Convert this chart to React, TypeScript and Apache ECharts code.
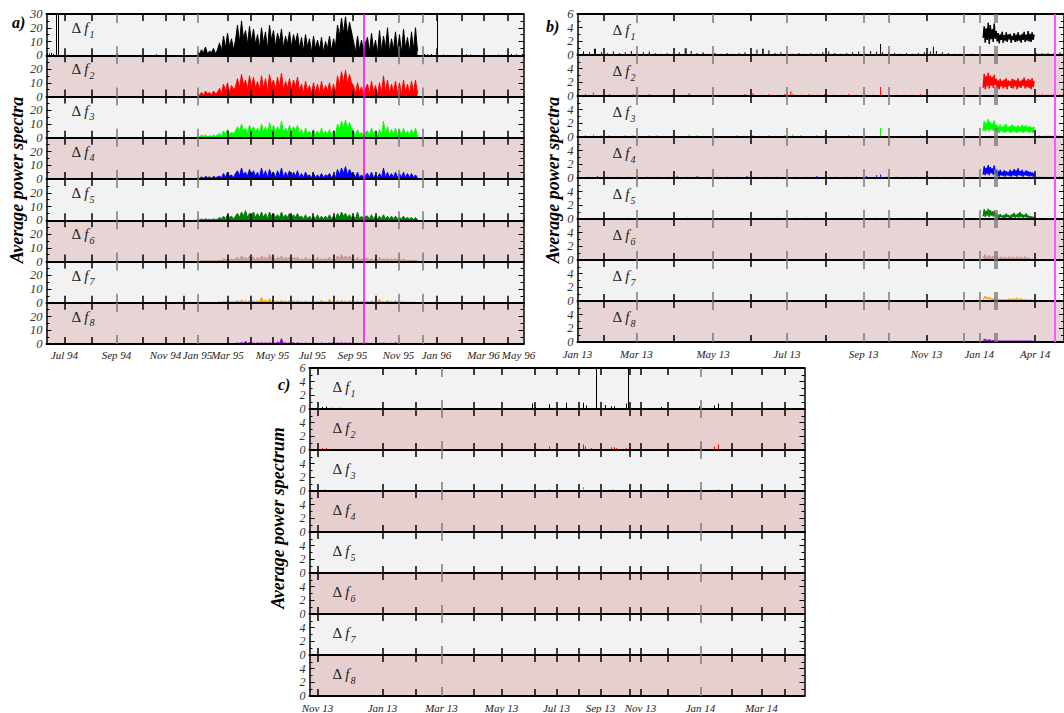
import React, { useEffect, useRef } from "react";
import * as echarts from "echarts";

// ================= Panel a (1994-1996) =================
const A_COUNT = 478;
const A_TICKS = [18, 45, 96, 119, 137, 181, 204, 226, 244, 266, 287, 306, 329, 390, 415, 437, 461];
const A_GRAY_TICKS = [70, 151, 352, 376];
const A_LABEL_POS = [18, 70, 119, 151, 181, 226, 266, 306, 352, 390, 437, 472];
const A_LABEL_TEXT = ["Jul 94", "Sep 94", "Nov 94", "Jan 95", "Mar 95", "May 95", "Jul 95", "Sep 95", "Nov 95", "Jan 96", "Mar 96", "May 96"];
const A_MARKER = 317;
const A_BAND_START = 151;
const A_BAND_STEP = 2;

const A_F1 = [
  3, 1, 4, 2, 6, 1, 3, 2, 5, 1, 4,
  9, 3, 14, 5, 16, 6, 12, 4, 11,
  22, 9, 25, 12, 18, 8, 21, 10, 19, 8,
  15, 5, 20, 9, 17, 4, 22, 11, 18, 6, 16, 10, 19, 5, 14, 8, 17, 6, 15, 9, 16, 5,
  13, 3, 15, 6, 12, 2, 14, 5, 11, 4, 13, 2, 10, 5, 14, 3, 12, 6,
  22, 14, 27, 16, 28, 15, 24, 17,
  10, 2, 14, 4, 11, 3, 9,
  13, 2, 16, 4, 11, 1, 18, 3, 14, 5, 20, 2, 12, 4, 17, 3, 15, 1, 19, 5, 13, 2, 17, 4, 20, 3,
];
const A_F2 = [
  2, 1, 3, 1, 4, 2, 3, 1, 4, 2, 3,
  6, 2, 9, 4, 10, 3, 8, 5, 7,
  13, 6, 16, 8, 12, 5, 15, 7, 14, 6,
  11, 4, 15, 6, 13, 3, 16, 8, 12, 5, 14, 7, 17, 4, 11, 6, 13, 5, 12, 7, 14, 4,
  9, 2, 11, 4, 8, 2, 10, 3, 9, 2, 11, 3, 8, 4, 10, 2, 9, 3,
  15, 8, 18, 10, 19, 9, 16, 10,
  8, 2, 10, 3, 7, 2, 6,
  9, 2, 11, 3, 8, 1, 10, 2, 15, 3, 12, 2, 9, 3, 11, 2, 10, 1, 12, 3, 9, 2, 11, 3, 12, 2,
];
const A_F3 = [
  1, 0.5, 2, 1, 2, 0.5, 1.5, 1, 2, 1, 2,
  3, 1, 5, 2, 6, 2, 4, 3, 5,
  8, 4, 10, 5, 7, 3, 9, 5, 8, 4,
  7, 3, 10, 4, 8, 2, 11, 5, 9, 3, 8, 4, 12, 3, 7, 4, 9, 3, 8, 5, 9, 3,
  6, 1, 7, 3, 5, 1, 6, 2, 5, 1, 7, 2, 5, 2, 6, 1, 5, 2,
  10, 6, 12, 7, 13, 6, 11, 7,
  5, 1, 6, 2, 4, 1, 4,
  5, 1, 7, 2, 5, 1, 6, 1, 12, 2, 8, 1, 6, 2, 7, 1, 6, 1, 7, 2, 5, 1, 6, 2, 7, 1,
];
const A_F4 = [
  1, 0.5, 1.5, 0.5, 2, 1, 1.5, 0.5, 2, 1, 1.5,
  2, 1, 4, 1, 5, 2, 3, 1, 4,
  6, 2, 8, 3, 5, 2, 7, 3, 6, 2,
  5, 1, 8, 2, 6, 1, 7, 3, 5, 1, 6, 2, 8, 1, 5, 2, 6, 1, 5, 2, 6, 1,
  4, 1, 5, 2, 3, 1, 4, 1, 3, 1, 4, 1, 3, 2, 4, 1, 3, 1,
  7, 3, 8, 4, 9, 3, 7, 4,
  4, 1, 5, 1, 3, 1, 3,
  4, 1, 5, 1, 3, 1, 4, 1, 8, 1, 5, 1, 4, 1, 5, 1, 4, 1, 5, 1, 4, 1, 4, 1, 3, 1,
];
const A_F5 = [
  0.5, 0.3, 0.8, 0.4, 1, 0.5, 0.7, 0.4, 1, 0.5, 0.8,
  2, 1, 3, 1, 4, 2, 3, 1, 3,
  5, 2, 6, 3, 7, 2, 5, 3, 6, 2,
  5, 2, 6, 2, 5, 1, 6, 3, 5, 2, 4, 2, 6, 2, 4, 2, 5, 2, 4, 2, 5, 2,
  3, 1, 4, 1, 3, 1, 3, 1, 4, 1, 3, 1, 3, 1, 4, 1, 3, 1,
  5, 2, 6, 3, 5, 2, 4, 2,
  3, 1, 6, 1, 3, 1, 3,
  3, 1, 4, 1, 3, 1, 3, 1, 4, 1, 3, 1, 3, 1, 3, 1, 2, 1, 3, 1, 2, 1, 2, 0.5, 2, 0.5,
];
const A_F6 = [
  0.3, 0.2, 0.5, 0.2, 0.6, 0.3, 0.5, 0.2, 0.5, 0.3, 0.6,
  1, 0.5, 2, 1, 2, 1, 2, 1, 2,
  3, 1, 4, 2, 3, 1, 4, 2, 3, 1,
  3, 1, 4, 2, 3, 1, 5, 2, 3, 1, 3, 2, 4, 1, 3, 2, 3, 1, 3, 2, 3, 1,
  2, 1, 3, 1, 2, 1, 2, 1, 3, 1, 2, 1, 2, 1, 3, 1, 2, 1,
  4, 2, 5, 2, 4, 2, 4, 2,
  2, 1, 3, 1, 2, 1, 2,
  2, 1, 2, 1, 2, 1, 3, 1, 2, 1, 2, 1, 2, 1, 2, 1, 2, 0.5, 2, 0.5, 1, 0.5, 1, 0.5, 1, 0.5,
];
const A_F7 = [
  0.2, 0.1, 0.3, 0.1, 0.3, 0.1, 0.2, 0.1, 0.3, 0.1, 0.2,
  0.8, 0.3, 1, 0.4, 1.5, 0.5, 1, 0.4, 1,
  1.5, 0.5, 2, 0.8, 1.5, 0.5, 1.5, 0.5, 1.2, 0.5,
  1.5, 0.5, 4, 0.8, 2, 0.5, 3, 1, 2, 0.5, 1.5, 0.5, 2, 0.5, 1.5, 0.5, 1.5, 0.5, 1.2, 0.5, 1.5, 0.5,
  1, 0.3, 1.5, 0.5, 1, 0.3, 1, 0.3, 1.2, 0.3, 2, 0.3, 1, 0.3, 2.5, 0.5, 1, 0.3,
  1.5, 0.5, 2, 0.5, 1.5, 0.5, 1.5, 0.5,
  1, 0.3, 1.5, 0.3, 1, 0.3, 1,
  1, 0.3, 1.5, 0.3, 1, 0.3, 2.5, 0.3, 1, 0.3, 2, 0.3, 1, 0.3, 1.5, 0.3, 1, 0.3, 0.8, 0.2, 0.5, 0.2, 0.5, 0.2, 0.4, 0.1,
];
const A_F8 = [
  0.1, 0.1, 0.2, 0.1, 0.2, 0.1, 0.2, 0.1, 0.2, 0.1, 0.2,
  0.3, 0.1, 0.5, 0.2, 0.6, 0.2, 0.4, 0.2, 0.5,
  0.8, 0.3, 1, 0.4, 2, 0.4, 1, 0.3, 0.8, 0.3,
  0.8, 0.3, 1, 0.3, 0.8, 0.3, 1, 0.3, 1, 0.3, 1.5, 0.3, 4, 0.3, 1, 0.3, 0.8, 0.3, 1, 0.3, 0.8, 0.3,
  0.6, 0.2, 0.8, 0.2, 0.6, 0.2, 0.8, 0.2, 0.6, 0.2, 0.8, 0.2, 0.6, 0.2, 0.8, 0.2, 1.5, 0.2,
  0.8, 0.3, 1, 0.3, 0.8, 0.3, 0.8, 0.3,
  0.5, 0.2, 0.6, 0.2, 0.5, 0.2, 0.5,
  0.5, 0.2, 0.6, 0.2, 0.5, 0.2, 0.6, 0.2, 0.8, 0.2, 0.5, 0.2, 0.6, 0.2, 1, 0.2, 0.5, 0.2, 0.5, 0.2, 0.4, 0.1, 0.4, 0.1, 0.3, 0.1,
];
const A_F1_SPIKES = [
  [1, 1.5], [3, 1.2], [5, 1.8], [7, 1], [10, 40], [12, 40], [71, 1.5], [110, 0.8],
  [378, 1], [381, 0.8], [385, 1], [391, 40], [397, 0.5], [420, 0.7], [424, 0.5],
  [440, 0.4], [452, 0.5], [465, 1], [470, 0.8], [476, 1],
];

// ================= Panel b (2013-2014) =================
const B_COUNT = 489;
const B_TICKS = [26, 97, 174, 249, 350, 459];
const B_GRAY_TICKS = [59, 136, 210, 287, 312, 387, 403, 419, 421];
const B_LABEL_POS = [0, 59, 136, 210, 287, 350, 403, 459];
const B_LABEL_TEXT = ["Jan 13", "Mar 13", "May 13", "Jul 13", "Sep 13", "Nov 13", "Jan 14", "Apr 14"];
const B_MARKER = 479;
const B_BAND_START = 407;
const B_TAIL_START = 460;
const B_TAIL_STEP = 3;

const B_F1_BASE = [0.3, 0.5, 0.4, 0.9, 0.4, 0.3, 0.5, 0.3, 0.4, 0.6, 0.3, 0.4, 0.5, 0.3, 0.2, 0.3, 0.2, 0.4, 1.0, 0.6, 0.3, 0.4, 0.2, 0.3, 0.2, 0.3, 0.2, 0.3, 0.4, 0.2, 0.8, 0.9, 0.7, 0.3, 0.4, 0.3, 0.2, 0.3, 0.2, 0.3, 0.2, 0.4, 0.5, 0.3, 0.2, 0.3, 0.4, 0.5, 0.3, 0.6, 0.5, 0.4, 0.4, 0.3, 0.2, 0.3, 0.2, 0.3, 0.4, 0.5, 0.6, 0.4, 0.3, 0.2, 0.2, 0.1, 0.2, 0.1];
const B_F2_BASE = [0.2, 0.3, 0.5, 0.2, 0.3, 0.2, 0.2, 0.3, 0.2, 0.3, 0.2, 0.2, 0.3, 0.2, 0.4, 0.2, 0.2, 0.3, 0.2, 0.2, 0.2, 0.3, 0.4, 0.2, 0.3, 0.2, 0.3, 0.3, 0.2, 0.3, 0.2, 0.3, 0.2, 0.2, 0.3, 0.2, 0.3, 0.2, 0.3, 0.3, 0.2, 0.2, 0.2, 0.3, 0.2, 0.2, 0.2, 0.1, 0.2, 0.1, 0.1];
const B_F3_BASE = [0.3, 0.3, 0.4, 0.3, 0.3, 0.2, 0.3, 0.3, 0.2, 0.3, 0.3, 0.2, 0.3, 0.2, 0.4, 0.3, 0.2, 0.3, 0.2, 0.2, 0.3, 0.2, 0.3, 0.2, 0.3, 0.2, 0.3, 0.4, 0.3, 0.2, 0.3, 0.3, 0.2, 0.2, 0.3, 0.2, 0.3, 0.2, 0.5, 0.3, 0.2, 0.2, 0.2, 0.3, 0.2, 0.2, 0.2, 0.2, 0.2, 0.1, 0.1];
const B_F4_BASE = [0.2, 0.2, 0.3, 0.2, 0.2, 0.2, 0.3, 0.2, 0.2, 0.2, 0.3, 0.2, 0.3, 0.2, 0.2, 0.2, 0.2, 0.3, 0.2, 0.2, 0.2, 0.2, 0.2, 0.2, 0.3, 0.2, 0.2, 0.2, 0.2, 0.3, 0.4, 0.2, 0.2, 0.2, 0.2, 0.3, 0.2, 0.2, 0.1, 0.1, 0.1];
const B_F5_BASE = [0.2, 0.1, 0.2, 0.1, 0.1, 0.2, 0.1, 0.1, 0.1, 0.1, 0.1, 0.2, 0.1, 0.2, 0.2, 0.1, 0.1, 0.1, 0.1, 0.1, 0.2, 0.1, 0.2, 0.2, 0.1, 0.1, 0.1, 0.1, 0.1, 0.1, 0.2, 0.1, 0.1, 0.2, 0.1, 0.1, 0.1, 0.1, 0.1, 0.1, 0.1];

const B_F1 = [
  2.5, 4.2, 1.8, 3.9, 2.2, 4.7, 1.6, 4.4, 2.3, 3.8, 1.9, 4.6, 2.4, 3.5,
  2.0, 3.2, 1.7, 3.0, 2.2, 3.4, 1.8, 2.9, 2.1, 3.3, 1.9, 3.0, 2.3, 3.1, 1.8, 2.8, 2.2, 3.2, 1.9, 3.0,
  2.0, 3.3, 2.1, 2.9, 1.8, 3.1, 2.2, 3.4, 1.9, 3.0, 2.1, 3.5, 2.0, 3.1, 1.9, 3.3, 2.2, 3.0,
];
const B_F2 = [
  1.2, 3.2, 1.0, 2.9, 1.4, 3.4, 1.1, 3.0, 1.5, 2.8, 1.2, 3.1, 1.6, 2.5,
  1.2, 2.3, 1.0, 2.5, 1.4, 2.2, 1.1, 2.4, 1.3, 2.6, 1.0, 2.3, 1.5, 2.2, 1.2, 2.5, 1.1, 2.4, 1.4, 2.3,
  1.0, 2.6, 1.3, 2.2, 1.2, 2.4, 1.5, 2.7, 1.1, 2.3, 1.3, 2.5, 1.2, 2.4, 1.0, 2.6, 1.3, 2.2,
];
const B_F3 = [
  0.9, 2.3, 0.8, 2.1, 1.0, 2.6, 0.8, 2.2, 1.1, 2.0, 0.9, 2.4, 1.0, 1.8,
  0.7, 1.6, 0.6, 1.8, 0.8, 1.5, 0.7, 1.7, 0.6, 1.9, 0.8, 1.5, 0.7, 1.6, 0.6, 1.8, 0.8, 1.6, 0.7, 1.5,
  0.6, 1.7, 0.8, 1.5, 0.7, 1.8, 0.6, 1.6, 0.7, 1.7, 0.8, 1.5, 0.6, 1.6, 0.7, 1.4, 0.6, 1.5,
];
const B_F4 = [
  0.5, 1.7, 0.4, 1.5, 0.6, 1.9, 0.4, 1.6, 0.7, 1.4, 0.5, 1.8, 0.6, 1.2,
  0.3, 1.0, 0.2, 1.2, 0.4, 0.9, 0.3, 1.1, 0.2, 1.0, 0.4, 0.9, 0.3, 1.2, 0.2, 1.0, 0.4, 1.3, 0.3, 1.1,
  0.2, 1.4, 0.4, 1.0, 0.3, 1.2, 0.2, 0.9, 0.4, 1.1, 0.3, 1.0, 0.2, 0.9, 0.3, 0.8, 0.2, 0.7,
];
const B_F5 = [
  0.4, 1.4, 0.3, 1.2, 0.5, 1.5, 0.3, 1.3, 0.5, 1.1, 0.4, 1.2, 0.3, 0.9,
  0.2, 0.6, 0.1, 0.7, 0.3, 0.5, 0.2, 0.6, 0.1, 0.8, 0.3, 0.6, 0.2, 0.5, 0.1, 0.7, 0.3, 0.9, 0.2, 0.6,
  0.3, 0.8, 0.2, 1.0, 0.3, 0.7, 0.2, 0.6, 0.3, 0.8, 0.2, 0.5, 0.1, 0.4, 0.2, 0.3, 0.1, 0.3,
];
const B_F6 = [0.3, 0.8, 0.2, 0.7, 0.3, 0.6, 0.2, 0.4, 0.2, 0.5, 0.2, 0.4, 0.2, 0.5, 0.2, 0.4, 0.2, 0.5, 0.2, 0.4, 0.2, 0.5, 0.2, 0.3, 0.1, 0.2];
const B_F7 = [0.2, 0.7, 0.3, 0.5, 0.2, 0.3, 0.1, 0.2, 0.1, 0.2, 0.1, 0.2, 0.1, 0.3, 0.1, 0.3, 0.2, 0.4, 0.1, 0.3, 0.1, 0.2, 0.1, 0.1, 0.1, 0.1];
const B_F8 = [0.2, 0.4, 0.1, 0.3, 0.1, 0.2, 0.1, 0.1, 0.1, 0.1, 0.1, 0.1, 0.1, 0.1, 0.1, 0.1, 0.1, 0.1, 0.1, 0.1, 0.1, 0.1, 0.1, 0.1, 0.1, 0.1];
const B_BAND_STEPS = [1, 1, 1, 1, 1, 2, 2, 2];

const B_F1_TAIL = [0.3, 0.2, 0.3, 0.2, 0.3, 0.2, 0.3, 0.2, 0.4, 0.2];
const B_F2_TAIL = [0.2, 0.2, 0.3, 0.2, 0.2, 0.2, 0.3, 0.2, 0.2, 0.3];
const B_F3_TAIL = [0.2, 0.3, 0.2, 0.2, 0.3, 0.2, 0.2, 0.3, 0.2, 0.2];
const B_F4_TAIL = [0.2, 0.2, 0.2, 0.2, 0.2, 0.2, 0.2, 0.2, 0.2, 0.2];

const B_F1_SPIKES = [[17, 0.9], [109, 1.0], [186, 0.9], [304, 1.6], [357, 1.2]];
const B_F2_SPIKES = [[214, 0.7], [304, 1.3]];
const B_F3_SPIKES = [[304, 1.3]];
const B_F4_SPIKES = [[304, 0.5]];

// ================= Panel c =================
const C_COUNT = 496;
const C_TICKS = [8, 73, 106, 164, 192, 225, 247, 269, 291, 320, 331, 358, 422, 452, 475];
const C_GRAY_TICKS = [132, 391];
const C_LABEL_POS = [8, 73, 132, 192, 247, 291, 331, 391, 452];
const C_LABEL_TEXT = ["Nov 13", "Jan 13", "Mar 13", "May 13", "Jul 13", "Sep 13", "Nov 13", "Jan 14", "Mar 14"];

const C_F1_SPIKES = [[13, 0.3], [17, 0.35], [22, 0.2], [30, 0.2], [223, 0.8], [226, 0.3], [240, 0.7], [257, 0.9], [274, 0.9], [277, 0.5], [287, 7], [296, 0.6], [302, 0.4], [305, 0.4], [317, 0.8], [319, 7], [352, 0.3], [390, 0.4], [405, 0.5], [409, 0.8]];
const C_F2_SPIKES = [[13, 0.3], [17, 0.3], [20, 0.2], [227, 0.2], [240, 0.5], [274, 0.8], [276, 0.5], [282, 0.3], [302, 0.4], [305, 0.4], [307, 0.3], [317, 0.3], [352, 0.2], [383, 0.2], [391, 0.6], [405, 0.5], [409, 0.8]];
const C_F3_SPIKES = [[15, 0.3], [240, 0.3], [274, 0.6], [303, 0.3], [353, 0.2], [383, 0.2], [391, 0.4], [409, 0.3]];
const C_F4_SPIKES = [[240, 0.15], [274, 0.2], [280, 0.15], [303, 0.2], [317, 0.15]];

// ================= styling =================
const COLORS = ["#000000", "#ff0000", "#00ff00", "#0000ff", "#008000", "#bc8f8f", "#ffa500", "#9400d3"];
const SERIF = "'Liberation Serif', 'Times New Roman', 'DejaVu Serif', serif";
const LIGHT = "#f2f2f2";

type Layer = { kind: "zig" | "fill" | "spike"; data: number[][] };

function seq(start: number, step: number, values: number[]) {
  return values.map((v, k) => [start + k * step, v]);
}

const A_BANDS = [A_F1, A_F2, A_F3, A_F4, A_F5, A_F6, A_F7, A_F8];
const A_LAYERS: Layer[][] = A_BANDS.map((vals, i) => [
  { kind: "fill", data: seq(A_BAND_START, A_BAND_STEP, vals) },
  { kind: "spike", data: i === 0 ? A_F1_SPIKES : [] },
]);

const B_BANDS = [B_F1, B_F2, B_F3, B_F4, B_F5, B_F6, B_F7, B_F8];
const B_BASES: { step: number; v: number[] }[] = [
  { step: 6, v: B_F1_BASE }, { step: 8, v: B_F2_BASE }, { step: 8, v: B_F3_BASE },
  { step: 10, v: B_F4_BASE }, { step: 10, v: B_F5_BASE },
];
const B_TAILS = [B_F1_TAIL, B_F2_TAIL, B_F3_TAIL, B_F4_TAIL];
const B_SPIKES = [B_F1_SPIKES, B_F2_SPIKES, B_F3_SPIKES, B_F4_SPIKES];
const B_LAYERS: Layer[][] = B_BANDS.map((vals, i) => {
  const out: Layer[] = [];
  out.push({ kind: i === 5 ? "fill" : "zig", data: seq(B_BAND_START, B_BAND_STEPS[i], vals) });
  const spikes: number[][] = [];
  if (B_BASES[i]) spikes.push(...seq(0, B_BASES[i].step, B_BASES[i].v));
  if (B_TAILS[i]) spikes.push(...seq(B_TAIL_START, B_TAIL_STEP, B_TAILS[i]));
  if (B_SPIKES[i]) spikes.push(...B_SPIKES[i]);
  if (spikes.length) out.push({ kind: "spike", data: spikes });
  return out;
});

const C_SPIKES = [C_F1_SPIKES, C_F2_SPIKES, C_F3_SPIKES, C_F4_SPIKES, [], [], [], []];
const C_LAYERS: Layer[][] = C_SPIKES.map((d) => [{ kind: "spike", data: d }]);

const PANELS = [
  {
    letter: "a)", left: 46.5, top: 14, width: 477, h: 41.25, count: A_COUNT, ymax: 30, yint: 10,
    ticks: A_TICKS, gray: A_GRAY_TICKS, labelPos: A_LABEL_POS, labelText: A_LABEL_TEXT,
    pink: "#e7d4d4", layers: A_LAYERS, marker: A_MARKER, markerColor: "#ff00ff", markerWidth: 1.5,
    ldx: 25, ldy: 14, letterX: 12, letterY: 22, title: "Average power spectra", titleX: 17, titleY: 180,
    labelMargin: 5, yFont: 12.5,
  },
  {
    letter: "b)", left: 577.5, top: 14, width: 488, h: 41, count: B_COUNT, ymax: 6, yint: 2,
    ticks: B_TICKS, gray: B_GRAY_TICKS, labelPos: B_LABEL_POS, labelText: B_LABEL_TEXT,
    pink: "#e7d4d4", layers: B_LAYERS, marker: B_MARKER, markerColor: "#ff55ff", markerWidth: 2,
    ldx: 35, ldy: 16, letterX: 546, letterY: 26, title: "Average power spectra", titleX: 553, titleY: 180,
    labelMargin: 6, yFont: 12.5,
  },
  {
    letter: "c)", left: 309.5, top: 368, width: 495, h: 41, count: C_COUNT, ymax: 6, yint: 2,
    ticks: C_TICKS, gray: C_GRAY_TICKS, labelPos: C_LABEL_POS, labelText: C_LABEL_TEXT,
    pink: "#e8cfcf", layers: C_LAYERS, marker: null as number | null, markerColor: "#ff00ff", markerWidth: 1,
    ldx: 23, ldy: 19, letterX: 278, letterY: 384, title: "Average power spectrum", titleX: 278, titleY: 518,
    labelMargin: 6, yFont: 12,
  },
];

function buildOption() {
  const grid: any[] = [];
  const xAxis: any[] = [];
  const yAxis: any[] = [];
  const series: any[] = [];
  const graphic: any[] = [];

  PANELS.forEach((p) => {
    const cats = Array.from({ length: p.count }, (_, k) => String(k));
    const tickSet = new Set(p.ticks);
    const graySet = new Set(p.gray);
    const labelMap = new Map<number, string>(p.labelPos.map((v, k) => [v, p.labelText[k]]));

    graphic.push({
      type: "text", x: p.letterX, y: p.letterY, z: 100, silent: true,
      style: { text: p.letter, fontFamily: SERIF, fontSize: 16, fontWeight: "bold", fontStyle: "italic", fill: "#000", verticalAlign: "middle" },
    });
    graphic.push({
      type: "text", x: p.titleX, y: p.titleY, rotation: Math.PI / 2, z: 100, silent: true,
      style: { text: p.title, fontFamily: SERIF, fontSize: 18, fontWeight: "bold", fontStyle: "italic", fill: "#000", align: "center", verticalAlign: "middle" },
    });

    for (let i = 0; i < 8; i++) {
      const g = grid.length;
      const top = p.top + i * p.h;
      grid.push({
        left: p.left, top, width: p.width, height: p.h, show: true,
        backgroundColor: i % 2 ? p.pink : LIGHT, borderWidth: 0,
      });
      const base = { type: "category", gridIndex: g, data: cats, boundaryGap: false, splitLine: { show: false }, z: 4, silent: true };
      const mkBlack = () => ({ show: true, inside: true, length: 7, interval: (idx: number) => tickSet.has(idx), lineStyle: { color: "#000", width: 1.5 } });
      const mkGray = () => ({ show: true, inside: true, length: 9, interval: (idx: number) => graySet.has(idx), lineStyle: { color: "#7a7a7a", width: 1.5 } });
      xAxis.push({
        ...base, position: "bottom",
        axisLine: { show: true, onZero: false, lineStyle: { color: "#000", width: 2 } },
        axisTick: mkBlack(),
        axisLabel: {
          show: i === 7, interval: (idx: number) => labelMap.has(idx),
          formatter: (_v: string, idx: number) => labelMap.get(idx) ?? "",
          showMinLabel: true, showMaxLabel: true, hideOverlap: false,
          fontFamily: SERIF, fontStyle: "italic", fontSize: 11, color: "#222", margin: p.labelMargin,
        },
      });
      xAxis.push({
        ...base, position: "top",
        axisLine: { show: true, onZero: false, lineStyle: { color: "#000", width: i === 0 ? 2 : 1 } },
        axisTick: mkBlack(), axisLabel: { show: false },
      });
      xAxis.push({ ...base, position: "bottom", axisLine: { show: false, onZero: false }, axisTick: mkGray(), axisLabel: { show: false } });
      xAxis.push({ ...base, position: "top", axisLine: { show: false, onZero: false }, axisTick: mkGray(), axisLabel: { show: false } });

      const yBase = {
        type: "value", gridIndex: g, min: 0, max: p.ymax, interval: p.yint, z: 4, silent: true,
        axisLine: { show: true, onZero: false, lineStyle: { color: "#000", width: 1.5 } },
        axisTick: { show: true, inside: true, length: 5, lineStyle: { color: "#000", width: 1 } },
        minorTick: { show: true, splitNumber: 2, length: 3, lineStyle: { color: "#000", width: 1 } },
        splitLine: { show: false }, minorSplitLine: { show: false },
      };
      yAxis.push({
        ...yBase, position: "left",
        axisLabel: { show: true, showMaxLabel: i === 0, fontFamily: SERIF, fontStyle: "italic", fontSize: p.yFont, color: "#333", margin: 4 },
      });
      yAxis.push({ ...yBase, position: "right", axisLabel: { show: false } });

      const color = COLORS[i];
      const xi = g * 4;
      const yi = g * 2;
      let first = true;
      p.layers[i].forEach((layer) => {
        if (!layer.data.length) return;
        let s: any;
        if (layer.kind === "spike") {
          s = { type: "bar", xAxisIndex: xi, yAxisIndex: yi, data: layer.data, barWidth: 1, itemStyle: { color }, clip: true, silent: true, z: 3 };
        } else {
          s = {
            type: "line", xAxisIndex: xi, yAxisIndex: yi, data: layer.data, symbol: "none", showSymbol: false,
            lineStyle: { color, width: layer.kind === "zig" ? 1.5 : 1 }, itemStyle: { color }, clip: true, silent: true, z: 3,
          };
          if (layer.kind === "fill") s.areaStyle = { color, opacity: i === 5 ? 0.7 : 1 };
        }
        if (first && p.marker !== null) {
          s.markLine = {
            silent: true, symbol: ["none", "none"], label: { show: false },
            lineStyle: { color: p.markerColor, width: p.markerWidth, type: "solid" },
            data: [{ xAxis: p.marker }],
          };
        }
        first = false;
        series.push(s);
      });

      graphic.push({
        type: "text", x: p.left + p.ldx, y: top + p.ldy, z: 100, silent: true,
        style: {
          text: "{d|Δ}{f|f}", fill: "#222", verticalAlign: "middle",
          rich: {
            d: { fontFamily: SERIF, fontSize: 15, fill: "#222" },
            f: { fontFamily: SERIF, fontSize: 15, fontStyle: "italic", fill: "#222", padding: [0, 0, 0, 3] },
          },
        },
      });
      graphic.push({
        type: "text", x: p.left + p.ldx + 18, y: top + p.ldy + 6, z: 100, silent: true,
        style: { text: String(i + 1), fontFamily: SERIF, fontSize: 10, fontStyle: "italic", fill: "#222", verticalAlign: "middle" },
      });
    }
  });

  return { animation: false, backgroundColor: "#ffffff", grid, xAxis, yAxis, series, graphic };
}

export default function App() {
  const ref = useRef<HTMLDivElement>(null);
  useEffect(() => {
    document.body.style.margin = "0";
    const chart = echarts.init(ref.current!, null, { renderer: "svg" });
    chart.setOption(buildOption() as any);
    return () => chart.dispose();
  }, []);
  return <div ref={ref} style={{ width: 1064, height: 713, background: "#fff" }} />;
}
